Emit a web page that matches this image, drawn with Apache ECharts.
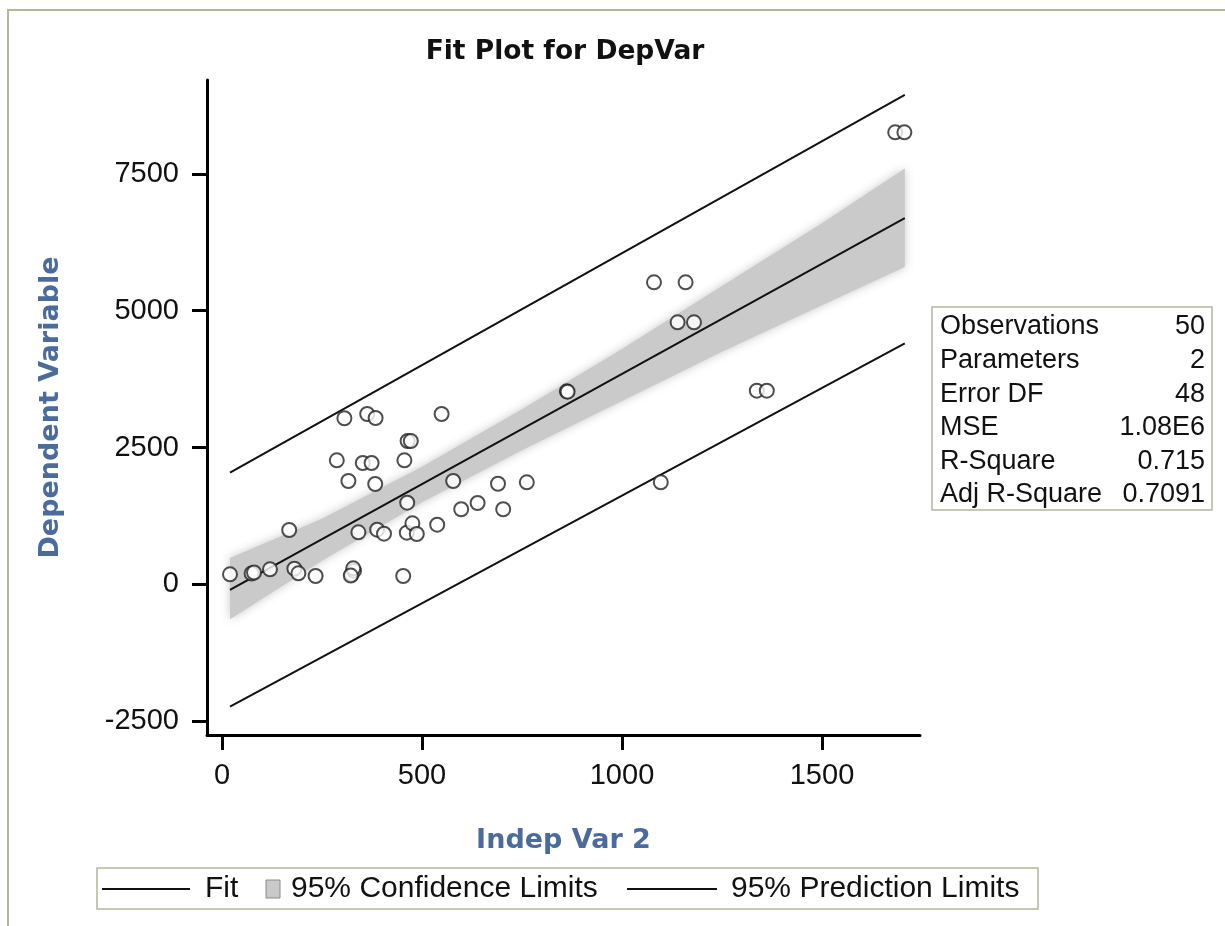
<!DOCTYPE html>
<html>
<head>
<meta charset="utf-8">
<title>Fit Plot for DepVar</title>
<script src="https://cdn.jsdelivr.net/npm/echarts@6/dist/echarts.min.js"></script>
<style>
  html, body { margin: 0; padding: 0; background: #fff; }
  #main { width: 1225px; height: 926px; }
</style>
</head>
<body>
<div id="main"></div>
<script>
// observations (Indep Var 2, DepVar)
var obsX = [20, 74, 80, 120, 181, 191, 234, 324, 330, 328, 322, 453,
  168, 341, 388, 405, 462, 476, 487, 538, 463, 598, 639, 703,
  578, 690, 762, 316, 383, 287, 352, 374, 456, 464, 472,
  306, 363, 384, 549, 862, 864, 1080, 1159, 1139, 1180,
  1337, 1362, 1097, 1683, 1706];
var obsY = [183, 197, 216, 274, 285, 201, 152, 183, 249, 292, 160, 152,
  992, 950, 998, 925, 943, 1115, 919, 1089, 1491, 1371, 1486, 1371,
  1888, 1838, 1864, 1888, 1833, 2266, 2217, 2217, 2266, 2619, 2619,
  3034, 3112, 3039, 3112, 3527, 3520, 5519, 5519, 4788, 4788,
  3538, 3538, 1864, 8260, 8260];

// fit line and 95% prediction limits (ends of each line)
var lineX = [20, 1707];
var fitY = [-104, 6694];
var predUpper = [2040, 8942];
var predLower = [-2237, 4404];

// 95% confidence band
var bandX = [20, 250, 500, 750, 1000, 1250, 1500, 1707];
var bandUpper = [480, 1200, 2150, 3200, 4300, 5450, 6600, 7600];
var bandLower = [-640, 430, 1500, 2450, 3350, 4250, 5100, 5800];

var xTicks = [0, 500, 1000, 1500];
var yTicks = [-2500, 0, 2500, 5000, 7500];

var statNames = ['Observations', 'Parameters', 'Error DF', 'MSE', 'R-Square', 'Adj R-Square'];
var statValues = ['50', '2', '48', '1.08E6', '0.715', '0.7091'];

var legendNames = ['Fit', '95% Confidence Limits', '95% Prediction Limits'];

function pairs(xs, ys) {
  return xs.map(function (x, i) { return [x, ys[i]]; });
}

var chart = echarts.init(document.getElementById('main'));

var labelFont = 'Liberation Sans, Arial, sans-serif';
var headFont = 'DejaVu Sans, Verdana, sans-serif';
var nameColor = '#4a6b9c';
var boxColor = '#b4b79a';

// stats inset
var statItems = [{
  type: 'rect',
  shape: { x: 932, y: 307, width: 280, height: 203 },
  style: { fill: '#fff', stroke: boxColor, lineWidth: 1.5 }
}];
statNames.forEach(function (n, i) {
  var y = 327 + i * 33.6;
  statItems.push({
    type: 'text', x: 940, y: y,
    style: { text: n, font: '27px ' + labelFont, fill: '#111', verticalAlign: 'middle' }
  });
  statItems.push({
    type: 'text', x: 1205, y: y,
    style: { text: statValues[i], font: '27px ' + labelFont, fill: '#111', align: 'right', verticalAlign: 'middle' }
  });
});

// legend strip
var legY = 889;
var legFont = '30px ' + labelFont;
var legendItems = [
  { type: 'rect', shape: { x: 97, y: 868, width: 941, height: 41 },
    style: { fill: '#fff', stroke: boxColor, lineWidth: 1.5 } },
  { type: 'line', shape: { x1: 102, y1: legY, x2: 190, y2: legY }, style: { stroke: '#111', lineWidth: 2 } },
  { type: 'text', x: 205, y: legY, style: { text: legendNames[0], font: legFont, fill: '#111', verticalAlign: 'middle' } },
  { type: 'rect', shape: { x: 266, y: 880, width: 14, height: 18 }, style: { fill: '#c9c9c9', stroke: '#8a8a8a', lineWidth: 1 } },
  { type: 'text', x: 291, y: legY, style: { text: legendNames[1], font: legFont, fill: '#111', verticalAlign: 'middle' } },
  { type: 'line', shape: { x1: 627, y1: legY, x2: 717, y2: legY }, style: { stroke: '#111', lineWidth: 2 } },
  { type: 'text', x: 731, y: legY, style: { text: legendNames[2], font: legFont, fill: '#111', verticalAlign: 'middle' } }
];

function plainNum(v) { return String(v); }

var option = {
  backgroundColor: '#fff',
  animation: false,
  title: {
    text: 'Fit Plot for DepVar',
    left: 560,
    textAlign: 'center',
    top: 34,
    textStyle: { fontFamily: headFont, fontWeight: 'bold', fontSize: 26.5, color: '#111' }
  },
  grid: { left: 207, top: 80, width: 713, height: 655, containLabel: false },
  xAxis: {
    type: 'value',
    min: -37.5,
    max: 1745,
    name: 'Indep Var 2',
    nameLocation: 'middle',
    nameGap: 92,
    nameTextStyle: { fontFamily: headFont, fontWeight: 'bold', fontSize: 27, color: nameColor },
    axisLine: { onZero: false, lineStyle: { color: '#000', width: 3 } },
    axisTick: { show: true, length: 15, lineStyle: { color: '#000', width: 3 }, customValues: xTicks },
    axisLabel: { customValues: xTicks, formatter: plainNum, margin: 26, fontFamily: labelFont, fontSize: 29, color: '#111' },
    splitLine: { show: false }
  },
  yAxis: {
    type: 'value',
    min: -2754,
    max: 9216,
    name: 'Dependent Variable',
    nameLocation: 'middle',
    nameGap: 143,
    nameTextStyle: { fontFamily: headFont, fontWeight: 'bold', fontSize: 27, color: nameColor },
    axisLine: { onZero: false, lineStyle: { color: '#000', width: 3 } },
    axisTick: { show: true, length: 15, lineStyle: { color: '#000', width: 3 }, customValues: yTicks },
    axisLabel: { customValues: yTicks, formatter: plainNum, margin: 28, fontFamily: labelFont, fontSize: 29, color: '#111' },
    splitLine: { show: false }
  },
  series: [
    {
      name: legendNames[1],
      type: 'custom',
      silent: true,
      z: 1,
      data: [[bandX[0], bandUpper[0]]],
      renderItem: function (params, api) {
        var pts = [];
        bandX.forEach(function (x, i) { pts.push(api.coord([x, bandUpper[i]])); });
        for (var i = bandX.length - 1; i >= 0; i--) pts.push(api.coord([bandX[i], bandLower[i]]));
        return {
          type: 'polygon',
          shape: { points: pts },
          style: { fill: '#cacaca', shadowBlur: 10, shadowColor: 'rgba(195,195,195,0.9)' }
        };
      }
    },
    {
      name: legendNames[0],
      type: 'line',
      z: 3,
      data: pairs(lineX, fitY),
      showSymbol: false,
      lineStyle: { color: '#111', width: 2 }
    },
    {
      name: legendNames[2],
      type: 'line',
      z: 3,
      data: pairs(lineX, predUpper),
      showSymbol: false,
      lineStyle: { color: '#111', width: 2 }
    },
    {
      name: legendNames[2],
      type: 'line',
      z: 3,
      data: pairs(lineX, predLower),
      showSymbol: false,
      lineStyle: { color: '#111', width: 2 }
    },
    {
      name: 'DepVar',
      type: 'scatter',
      z: 4,
      data: pairs(obsX, obsY),
      symbol: 'emptyCircle',
      symbolSize: 14,
      itemStyle: { color: '#222', borderWidth: 1.4 }
    }
  ],
  graphic: [
    // outer frame (only top and left edges fall inside the picture)
    { type: 'polyline', shape: { points: [[8, 926], [8, 10], [1225, 10]] },
      style: { stroke: boxColor, lineWidth: 2, fill: null } },
    { type: 'group', children: statItems },
    { type: 'group', children: legendItems }
  ]
};

chart.setOption(option);
</script>
</body>
</html>
